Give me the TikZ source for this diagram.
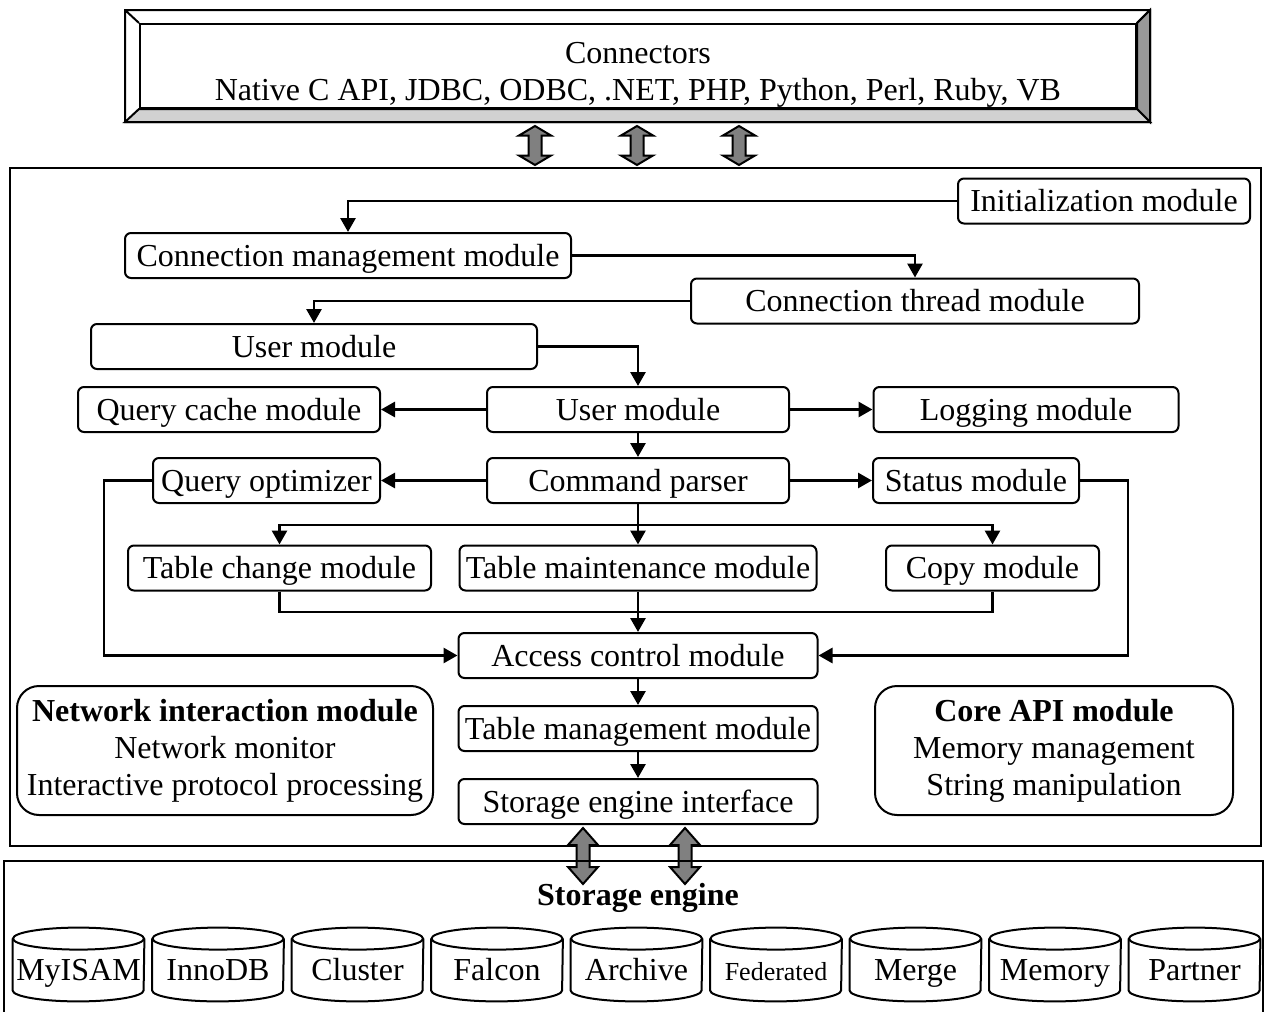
\documentclass[tikz,border=0pt]{standalone}
\usepackage{fontspec}
\setmainfont{Liberation Serif}
\usetikzlibrary{arrows.meta}
\usetikzlibrary{calc}

\newlength\px
\setlength\px{0.5pt}

\definecolor{facedark}{gray}{0.6}
\definecolor{facelight}{gray}{0.82}
\definecolor{arrowgray}{gray}{0.5}

\tikzset{
  pics/updown/.style args={#1/#2/#3}{code={
    \draw [fill=arrowgray,line width=1pt]
      (0,-#1) -- (#3,-#1+#2) -- (6.5,-#1+#2) -- (6.5,#1-#2) -- (#3,#1-#2) -- (0,#1)
      -- (-#3,#1-#2) -- (-6.5,#1-#2) -- (-6.5,-#1+#2) -- (-#3,-#1+#2) -- cycle;
  }}
}

\begin{document}
\begin{tikzpicture}[x=0.5pt,y=-0.5pt,font=\fontsize{16}{18.5}\selectfont,
    module/.style={draw,rounded corners=3pt,line width=1pt,minimum height=45\px,inner sep=0pt,
      text height=12.6pt,text depth=2pt},
    group/.style={draw,rounded corners=11pt,line width=1pt,minimum height=129\px,inner sep=0pt,align=center},
    engine/.style={minimum width=131\px,minimum height=40\px,inner sep=0pt,text height=12pt,text depth=2pt},
    flow/.style={draw,line width=1.4pt,-{Triangle[length=7pt,width=7.5pt]}},
    wire/.style={draw,line width=1.4pt}]

  \useasboundingbox (0,0) rectangle (1265,1012);

  \node [draw,line width=1pt,minimum width=996\px,minimum height=84\px,
    label={[align=center,yshift=-4.25pt]center:{Connectors\\Native C API, JDBC, ODBC, .NET, PHP, Python, Perl, Ruby, VB}}]
    (connectors) at (638,66) {};

  \path [draw,line width=1pt,fill=facedark]
    (1150,10) -- (1150,122) -- (connectors.south east) -- (connectors.north east) -- cycle;
  \path [draw,line width=1pt,fill=facelight]
    (125,122) -- (1150,122) -- (connectors.south east) -- (connectors.south west) -- cycle;
  \path [draw,line width=1pt]
    (125,10) rectangle (1150,122)
    (125,10) -- (connectors.north west)
    (1150,10) -- (connectors.north east);

  \pic at (535,145.5) {updown=19.5/9.5/16};
  \pic at (637,145.5) {updown=19.5/9.5/16};
  \pic at (739,145.5) {updown=19.5/9.5/16};

  \draw [line width=1pt] (10,168) rectangle (1261,846);

  \node [module,minimum width=292\px] (init) at (1104,201) {Initialization module};
  \node [module,minimum width=446\px] (connmgmt) at (348,255.5) {Connection management module};
  \node [module,minimum width=448\px] (connthread) at (915,301) {Connection thread module};
  \node [module,minimum width=446\px] (user_1) at (314,346.5) {User module};

  \node [module,minimum width=302\px] (qcache) at (229,409.5) {Query cache module};
  \node [module,minimum width=302\px] (user_2) at (638,409.5) {User module};
  \node [module,minimum width=305\px] (logging) at (1026,409.5) {Logging module};

  \node [module,minimum width=227\px] (qopt) at (266.5,480.5) {Query optimizer};
  \node [module,minimum width=302\px] (cmd) at (638,480.5) {Command parser};
  \node [module,minimum width=206\px] (status) at (976,480.5) {Status module};

  \node [module,minimum width=303\px] (tchange) at (279.5,568) {Table change module};
  \node [module,minimum width=357\px] (tmaint) at (638,568) {Table maintenance module};
  \node [module,minimum width=213\px] (copy) at (992.5,568) {Copy module};

  \node [module,minimum width=359\px] (access) at (638,655.5) {Access control module};
  \node [module,minimum width=359\px] (tmgmt) at (638,728.5) {Table management module};
  \node [module,minimum width=359\px] (seif) at (638,801.5) {Storage engine interface};

  \node [group,minimum width=416\px] (netmod) at (225,750.5)
    {\textbf{Network interaction module}\\Network monitor\\Interactive protocol processing};
  \node [group,minimum width=358\px] (coreapi) at (1054,750.5)
    {\textbf{Core API module}\\Memory management\\String manipulation};

  \path [flow] (init.west) -| (connmgmt.north);
  \path [flow] (connmgmt.east) -| (connthread.north);
  \path [flow] (connthread.west) -| (user_1.north);
  \path [flow] (user_1.east) -| (user_2.north);

  \path [flow]
    (user_2) edge (qcache)
    (user_2) edge (logging)
    (user_2) edge (cmd)
    (cmd) edge (qopt)
    (cmd) edge (status);

  \coordinate (fork) at (638,525);
  \coordinate (join) at (638,612);

  \path [wire] (cmd.south) -- (fork);
  \path [flow] (fork) -| (tchange.north);
  \path [flow] (fork) -| (copy.north);
  \path [flow] (fork) -- (tmaint.north);

  \path [wire] (tchange.south) |- (join) -| (copy.south);
  \path [flow] (tmaint.south) -- (access.north);
  \path [flow] (qopt.west) -- ++(-48,0) |- (access.west);
  \path [flow] (status.east) -- ++(48,0) |- (access.east);

  \path [flow]
    (access) edge (tmgmt)
    (tmgmt) edge (seif);

  \pic at (583,856) {updown=28/17/15};
  \pic at (685,856) {updown=28/17/15};

  \draw [line width=1pt] (4,861) rectangle (1263,1020);
  \node [font=\fontsize{16}{18.5}\selectfont\bfseries] (storage) at (638,898) {Storage engine};

  \foreach \eng/\size [count=\i from 0] in {MyISAM/16,InnoDB/16,Cluster/16,Falcon/16,Archive/16,Federated/13,Merge/16,Memory/16,Partner/16} {
    \node [engine,font=\fontsize{\size}{18}\selectfont] (eng\i) at ({78.5+139.5*\i},970) {\eng};
    \draw [line width=1pt] ($(eng\i.north west)+(0,-11)$) -- (eng\i.south west)
      arc [start angle=180,end angle=0,x radius=65.5,y radius=11] -- ($(eng\i.north east)+(0,-11)$);
    \draw [line width=1pt] ($(eng\i.north)+(0,-11)$) ellipse [x radius=65.5,y radius=11];
  }

\end{tikzpicture}
\end{document}
